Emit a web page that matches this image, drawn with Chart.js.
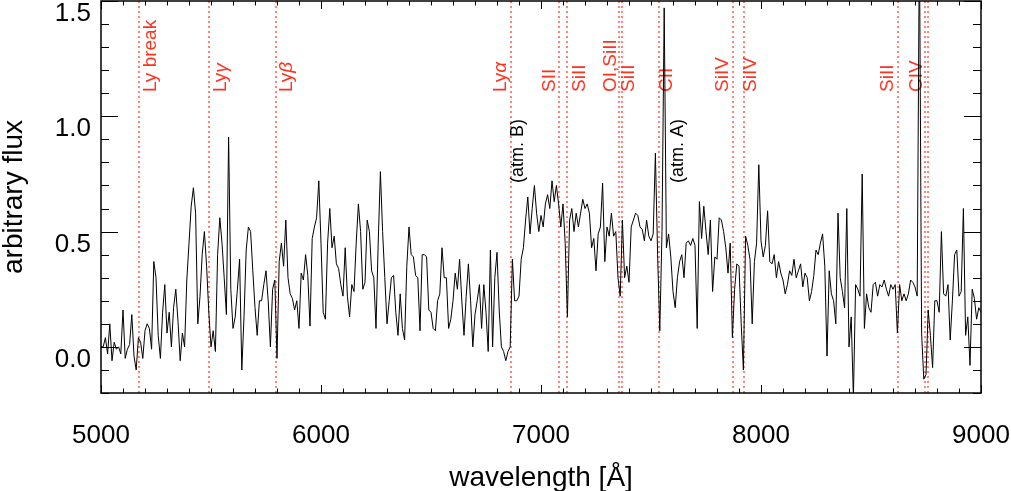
<!DOCTYPE html>
<html>
<head>
<meta charset="utf-8">
<script src="https://cdn.jsdelivr.net/npm/chart.js@4.4.0/dist/chart.umd.min.js"></script>
<style>
  html, body { margin: 0; padding: 0; background: #fff; }
  #wrap { width: 1011px; height: 491px; }
</style>
</head>
<body>
<div id="wrap"><canvas id="spectrumChart"></canvas></div>
<script>
// flux, one value every 10 A from 5000 to 9000 A
const flux = [
  0.00, 0.00, 0.04, -0.03, 0.10, -0.06, 0.02, -0.01, 0.00, -0.03,
  0.16, -0.05, -0.01, 0.01, 0.14, -0.04, -0.10, 0.04, 0.02, -0.05,
  0.07, 0.10, 0.08, -0.01, 0.37, 0.30, 0.05, -0.05, 0.15, 0.27,
  0.06, 0.15, 0.00, 0.17, 0.25, 0.11, -0.06, 0.06, 0.00, 0.29,
  0.45, 0.61, 0.69, 0.58, 0.10, 0.22, 0.40, 0.50, 0.35, 0.15,
  0.00, 0.07, -0.02, 0.40, 0.56, 0.45, 0.30, 0.14, 0.91, 0.25,
  0.08, 0.13, 0.25, 0.38, -0.10, 0.13, 0.42, 0.52, 0.50, 0.33,
  0.17, 0.05, 0.20, 0.20, 0.27, 0.33, 0.20, 0.00, 0.25, 0.29,
  -0.05, 0.37, 0.45, 0.35, 0.55, 0.30, 0.23, 0.21, 0.16, 0.20,
  0.08, 0.32, 0.29, 0.40, 0.31, 0.09, 0.47, 0.52, 0.56, 0.72,
  0.45, 0.15, 0.12, 0.45, 0.60, 0.43, 0.48, 0.36, 0.34, 0.27,
  0.22, 0.43, 0.22, 0.13, 0.27, 0.24, 0.45, 0.62, 0.50, 0.25,
  0.28, 0.55, 0.50, 0.33, 0.30, 0.08, 0.45, 0.76, 0.50, 0.30,
  0.10, 0.20, 0.30, 0.31, 0.15, 0.05, 0.23, 0.08, 0.03, 0.35,
  0.52, 0.40, 0.39, 0.31, 0.30, 0.07, 0.40, 0.40, 0.39, 0.16,
  0.15, 0.08, 0.07, 0.20, 0.23, 0.43, 0.30, 0.30, 0.08, 0.12,
  0.20, 0.32, 0.25, 0.38, 0.20, 0.05, 0.22, 0.36, 0.20, 0.00,
  0.14, 0.20, 0.27, 0.08, 0.27, 0.15, -0.02, 0.42, 0.00, 0.30,
  0.41, 0.16, 0.00, -0.02, -0.06, -0.02, 0.00, 0.38, 0.20, 0.20,
  0.22, 0.38, 0.43, 0.55, 0.65, 0.49, 0.60, 0.70, 0.58, 0.50,
  0.57, 0.52, 0.62, 0.66, 0.60, 0.72, 0.63, 0.70, 0.62, 0.52,
  0.62, 0.45, 0.13, 0.55, 0.60, 0.50, 0.58, 0.52, 0.58, 0.64,
  0.60, 0.62, 0.58, 0.43, 0.47, 0.33, 0.49, 0.52, 0.71, 0.37,
  0.52, 0.48, 0.58, 0.48, 0.50, 0.30, 0.22, 0.55, 0.30, 0.35,
  0.28, 0.52, 0.55, 0.58, 0.57, 0.52, 0.51, 0.46, 0.55, 0.48,
  0.46, 0.49, 0.84, 0.40, 0.07, 0.50, 1.47, 0.43, 0.49, 0.39,
  0.24, 0.17, 0.30, 0.37, 0.40, 0.30, 0.45, 0.46, 0.44, 0.47,
  0.44, 0.08, 0.63, 0.47, 0.61, 0.50, 0.40, 0.55, 0.24, 0.39,
  0.38, 0.56, 0.55, 0.50, 0.43, 0.32, 0.45, 0.04, 0.25, 0.36,
  0.35, 0.10, -0.10, 0.48, 0.44, 0.38, 0.10, 0.37, 0.45, 0.79,
  0.46, 0.39, 0.44, 0.59, 0.37, 0.36, 0.40, 0.30, 0.37, 0.32,
  0.29, 0.23, 0.27, 0.33, 0.31, 0.38, 0.30, 0.33, 0.36, 0.26,
  0.32, 0.30, 0.20, 0.24, 0.31, 0.42, 0.40, 0.45, 0.49, 0.35,
  -0.04, 0.33, 0.23, 0.20, 0.10, 0.58, 0.30, 0.24, 0.17, 0.60,
  0.00, 0.13, -0.22, 0.27, 0.25, 0.22, 0.75, 0.08, 0.23, 0.17,
  0.15, 0.27, 0.28, 0.22, 0.27, 0.26, 0.29, 0.25, 0.22, 0.27,
  0.25, 0.27, 0.06, 0.27, 0.20, 0.23, 0.20, 0.23, 0.29, 0.28,
  0.26, 0.22, 1.80, 0.06, -0.14, -0.12, 0.16, 0.05, -0.09, 0.20,
  0.20, 0.15, 0.50, 0.23, 0.22, 0.27, 0.03, 0.20, 0.40, 0.42,
  0.22, 0.24, 0.60, 0.05, 0.13, -0.08, 0.25, 0.21, 0.12, 0.17,
  0.15
];
const wavelengths = flux.map((f, i) => 5000 + 10 * i);

const xTicks = [5000, 6000, 7000, 8000, 9000];
const yTicks = [0.0, 0.5, 1.0, 1.5];

// line identifications (observed wavelength)
const lineWaves = [5171, 5492, 5794, 6864, 7083, 7120, 7356, 7368, 7538, 7874, 7924, 8624, 8745, 8760];
const lineNames = ['Ly break', 'Lyγ', 'Lyβ', 'Lyα', 'SII', 'SiII', 'OI,SiII', 'SiII', 'CII', 'SiIV', 'SiIV', 'SiII', 'CIV', ''];
const atmWaves = [6870, 7600];
const atmNames = ['(atm. B)', '(atm. A)'];

const FONT = '"Liberation Sans", Arial, Helvetica, sans-serif';
const RED = 'rgb(255, 50, 30)';
const labelShift = [12, 12, 11, -10, -9, 12, -9, 7, 7, -11, 6, -11, -8, 0];
const atmShift = [6, 5];

function drawRotated(ctx, text, px, py) {
  ctx.save();
  ctx.translate(px, py);
  ctx.rotate(-Math.PI / 2);
  const greek = /[αβγ]$/.test(text);
  if (greek) {
    const base = text.slice(0, -1);
    ctx.fillText(base, 0, 0);
    const w = ctx.measureText(base).width;
    const f = ctx.font;
    ctx.font = 'italic ' + f;
    ctx.fillText(text.slice(-1), w, 0);
    ctx.font = f;
  } else {
    ctx.fillText(text, 0, 0);
  }
  ctx.restore();
}

const overlay = {
  id: 'overlay',
  beforeDatasetsDraw(chart) {
    const { ctx, chartArea: a, scales: { x } } = chart;
    ctx.save();
    ctx.beginPath();
    ctx.rect(a.left, a.top, a.right - a.left, a.bottom - a.top);
    ctx.clip();
    ctx.strokeStyle = RED;
    ctx.lineWidth = 1.2;
    ctx.setLineDash([2, 3]);
    lineWaves.forEach(w => {
      const px = Math.round(x.getPixelForValue(w));
      ctx.beginPath();
      ctx.moveTo(px, a.top);
      ctx.lineTo(px, a.bottom);
      ctx.stroke();
    });
    ctx.setLineDash([]);
    ctx.textAlign = 'left';
    ctx.textBaseline = 'middle';
    ctx.fillStyle = RED;
    ctx.font = '19px ' + FONT;
    lineNames.forEach((name, i) => {
      if (!name) return;
      drawRotated(ctx, name, x.getPixelForValue(lineWaves[i]) + labelShift[i], 92);
    });
    ctx.fillStyle = '#000';
    ctx.font = '18px ' + FONT;
    atmNames.forEach((name, i) => {
      drawRotated(ctx, name, x.getPixelForValue(atmWaves[i]) + atmShift[i], 183);
    });
    ctx.restore();
  },
  afterDraw(chart) {
    const { ctx, chartArea: a, scales: { x, y } } = chart;
    ctx.save();
    ctx.strokeStyle = '#000';
    ctx.lineWidth = 1;
    ctx.beginPath();
    // x ticks, inward on bottom and top
    for (let w = 5000; w <= 9000; w += 100) {
      const px = Math.round(x.getPixelForValue(w)) + 0.5;
      const len = w % 1000 === 0 ? 8 : 4.5;
      ctx.moveTo(px, a.bottom); ctx.lineTo(px, a.bottom - len);
      ctx.moveTo(px, a.top); ctx.lineTo(px, a.top + len);
    }
    // y ticks, inward on left and right
    for (let k = -2; k <= 15; k++) {
      const py = Math.round(y.getPixelForValue(k / 10)) + 0.5;
      const len = k % 5 === 0 ? 17 : 8;
      ctx.moveTo(a.left, py); ctx.lineTo(a.left + len, py);
      ctx.moveTo(a.right, py); ctx.lineTo(a.right - len, py);
    }
    ctx.stroke();
    ctx.lineWidth = 1.5;
    ctx.strokeRect(a.left, a.top, a.right - a.left, a.bottom - a.top);
    // y tick labels
    ctx.fillStyle = '#000';
    ctx.font = '26px ' + FONT;
    ctx.textAlign = 'right';
    ctx.textBaseline = 'middle';
    yTicks.forEach(v => {
      ctx.fillText(v.toFixed(1), 91, y.getPixelForValue(v) + 13);
    });
    ctx.restore();
  }
};

const ctx = document.getElementById('spectrumChart').getContext('2d');
new Chart(ctx, {
  type: 'line',
  data: {
    datasets: [{
      data: wavelengths.map((w, i) => ({ x: w, y: flux[i] })),
      borderColor: '#000',
      borderWidth: 1,
      pointRadius: 0,
      tension: 0,
      fill: false
    }]
  },
  options: {
    responsive: true,
    maintainAspectRatio: false,
    animation: false,
    layout: { padding: { top: 1, right: 30, left: 0, bottom: 0 } },
    plugins: { legend: { display: false }, tooltip: { enabled: false } },
    scales: {
      x: {
        type: 'linear',
        min: 5000,
        max: 9000,
        afterBuildTicks: scale => { scale.ticks = xTicks.map(v => ({ value: v })); },
        afterFit: scale => {
          scale.height = 98;
          scale.paddingLeft = 0;
          scale.paddingRight = 0;
        },
        grid: { display: false },
        border: { display: false },
        ticks: {
          autoSkip: false,
          maxRotation: 0,
          padding: 19,
          color: '#000',
          font: { family: FONT, size: 26 },
          callback: v => String(v)
        },
        title: {
          display: true,
          text: 'wavelength [Å]',
          color: '#000',
          font: { family: FONT, size: 28 },
          padding: { top: 0, bottom: -4 }
        }
      },
      y: {
        min: -0.2,
        max: 1.5,
        afterFit: scale => { scale.width = 101; },
        grid: { display: false },
        border: { display: false },
        ticks: { display: false },
        title: {
          display: true,
          text: 'arbitrary flux',
          color: '#000',
          font: { family: FONT, size: 28 },
          padding: { top: -3, bottom: 0 }
        }
      }
    }
  },
  plugins: [overlay]
});
</script>
</body>
</html>
